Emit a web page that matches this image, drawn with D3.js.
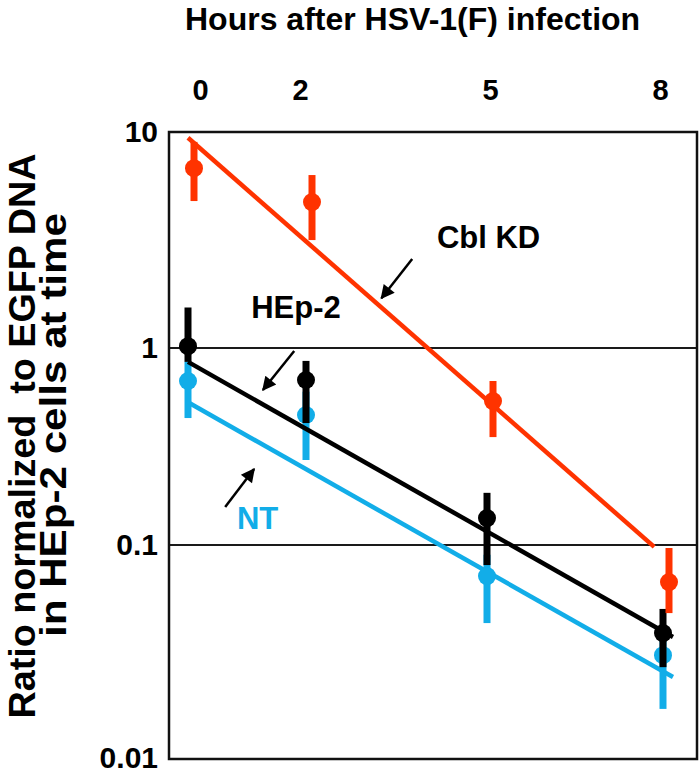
<!DOCTYPE html>
<html>
<head>
<meta charset="utf-8">
<script src="https://cdn.jsdelivr.net/npm/d3@7"></script>
<style>
  html, body { margin: 0; padding: 0; background: #fff; }
  svg { display: block; }
  text { font-family: "Liberation Sans", Arial, Helvetica, sans-serif; font-weight: bold; }
</style>
</head>
<body>
<svg id="chart" width="700" height="771"></svg>
<script>
// ---------------- data ----------------
const hours = [0, 2, 5, 8];
const xTickLabels = ["0", "2", "5", "8"];
const yTickValues = [10, 1, 0.1, 0.01];
const yTickLabels = ["10", "1", "0.1", "0.01"];

// NT (cyan)
const ntMean = [0.68, 0.457, 0.0715, 0.0304];
const ntLow  = [0.441, 0.27, 0.043, 0.017];
const ntHigh = [0.85, 0.6, 0.09, 0.04];
// HEp-2 (black)
const hep2Mean = [1.02, 0.688, 0.137, 0.0386];
const hep2Low  = [0.85, 0.416, 0.0805, 0.0267];
const hep2High = [1.54, 0.86, 0.184, 0.0501];
// Cbl KD (red)
const cblMean = [6.8, 4.74, 0.538, 0.067];
const cblLow  = [4.79, 3.16, 0.353, 0.0479];
const cblHigh = [9.0, 6.32, 0.68, 0.0968];

// regression lines: [start hour, end hour] and [start value, end value]
const ntFitHours = [0, 8.17],   ntFitValues = [0.53, 0.024];
const hep2FitHours = [0, 8.17], hep2FitValues = [0.85, 0.037];
const cblFitHours = [0, 7.85],  cblFitValues = [9.4, 0.098];

// ---------------- layout ----------------
const svg = d3.select("#chart");
const plot = { left: 169, top: 132, right: 697, bottom: 759 };
const RED = "#ff3300", CYAN = "#12ade8", BLACK = "#000";

const x = d3.scaleLinear().domain(hours).range([188, 306, 487, 663]);
const xLabel = d3.scaleLinear().domain(hours).range([200, 300, 490, 660]);
const y = d3.scaleLog().domain(yTickValues).range([132, 348, 545, 758]);

// title
svg.append("text")
  .attr("x", 185).attr("y", 30)
  .attr("text-anchor", "start")
  .attr("font-size", 32)
  .text("Hours after HSV-1(F) infection");

// y title (two lines)
const yTitle = svg.append("g").attr("transform", "rotate(-90)");
yTitle.append("text").attr("x", -436).attr("y", 35).attr("text-anchor", "middle")
  .attr("font-size", 36).attr("textLength", 565).attr("lengthAdjust", "spacingAndGlyphs")
  .style("white-space", "pre").text("Ratio normalized  to EGFP DNA");
yTitle.append("text").attr("x", -425).attr("y", 66).attr("text-anchor", "middle")
  .attr("font-size", 36).attr("textLength", 424).attr("lengthAdjust", "spacingAndGlyphs")
  .text("in HEp-2 cells at time");

// gridlines at 1 and 0.1
svg.append("g").selectAll("line").data([1, 0.1]).join("line")
  .attr("x1", plot.left).attr("x2", plot.right)
  .attr("y1", d => y(d)).attr("y2", d => y(d))
  .attr("stroke", "#1a1a1a").attr("stroke-width", 2);

// frame
svg.append("rect")
  .attr("x", plot.left).attr("y", plot.top)
  .attr("width", plot.right - plot.left).attr("height", plot.bottom - plot.top)
  .attr("fill", "none").attr("stroke", "#111").attr("stroke-width", 2.5);

// top axis labels
const xAxis = d3.axisTop(xLabel).tickValues(hours)
  .tickFormat((d, i) => xTickLabels[i]).tickSize(0).tickPadding(0);
const gx = svg.append("g").attr("transform", "translate(0,100)").call(xAxis);
gx.select(".domain").remove();
gx.selectAll("text").attr("font-size", 29).attr("fill", "#000")
  .attr("font-family", "'Liberation Sans', Arial, sans-serif").attr("font-weight", "bold");

// left axis labels
const yAxis = d3.axisLeft(y).tickValues(yTickValues)
  .tickFormat((d, i) => yTickLabels[i]).tickSize(0).tickPadding(11);
const gy = svg.append("g").attr("transform", `translate(${plot.left},0)`).call(yAxis);
gy.select(".domain").remove();
gy.selectAll("text").attr("font-size", 30).attr("fill", "#000").attr("dy", "0.3em")
  .attr("font-family", "'Liberation Sans', Arial, sans-serif").attr("font-weight", "bold");

// series
const series = [
  { name: "NT", color: CYAN, mean: ntMean, low: ntLow, high: ntHigh, fitH: ntFitHours, fitV: ntFitValues, dx: 0 },
  { name: "HEp-2", color: BLACK, mean: hep2Mean, low: hep2Low, high: hep2High, fitH: hep2FitHours, fitV: hep2FitValues, dx: 0 },
  { name: "Cbl KD", color: RED, mean: cblMean, low: cblLow, high: cblHigh, fitH: cblFitHours, fitV: cblFitValues, dx: 6 }
];

const line = d3.line().x(d => x(d[0])).y(d => y(d[1]));

series.forEach(s => {
  const g = svg.append("g");
  g.append("path")
    .attr("d", line(s.fitH.map((h, i) => [h, s.fitV[i]])))
    .attr("fill", "none").attr("stroke", s.color).attr("stroke-width", 4.5);
  const pts = hours.map((h, i) => ({ h, m: s.mean[i], lo: s.low[i], hi: s.high[i] }));
  g.selectAll("line.err").data(pts).join("line").attr("class", "err")
    .attr("x1", d => x(d.h) + s.dx).attr("x2", d => x(d.h) + s.dx)
    .attr("y1", d => y(d.hi)).attr("y2", d => y(d.lo))
    .attr("stroke", s.color).attr("stroke-width", 7);
  g.selectAll("circle").data(pts).join("circle")
    .attr("cx", d => x(d.h) + s.dx).attr("cy", d => y(d.m)).attr("r", 9)
    .attr("fill", s.color);
});

// annotations (in data coordinates)
const defs = svg.append("defs");
defs.append("marker").attr("id", "ah").attr("viewBox", "0 0 10 10")
  .attr("refX", 9).attr("refY", 5).attr("markerUnits", "userSpaceOnUse")
  .attr("markerWidth", 17).attr("markerHeight", 14).attr("orient", "auto")
  .append("path").attr("d", "M0,0 L10,5 L0,10 Z").attr("fill", "#000");

const arrows = [
  { from: [3.76, 2.58], to: [3.25, 1.70] },
  { from: [1.80, 0.965], to: [1.27, 0.612] },
  { from: [0.63, 0.156], to: [1.12, 0.243] }
];
svg.append("g").selectAll("line").data(arrows).join("line")
  .attr("x1", d => x(d.from[0])).attr("y1", d => y(d.from[1]))
  .attr("x2", d => x(d.to[0])).attr("y2", d => y(d.to[1]))
  .attr("stroke", "#000").attr("stroke-width", 2.5).attr("marker-end", "url(#ah)");

const labels = [
  { text: "Cbl KD", h: 4.17, v: 2.91, color: "#000" },
  { text: "HEp-2", h: 1.07, v: 1.377, color: "#000" },
  { text: "NT", h: 0.83, v: 0.121, color: CYAN }
];
svg.append("g").selectAll("text").data(labels).join("text")
  .attr("x", d => x(d.h)).attr("y", d => y(d.v))
  .attr("font-size", 31).attr("fill", d => d.color).text(d => d.text);
</script>
</body>
</html>
